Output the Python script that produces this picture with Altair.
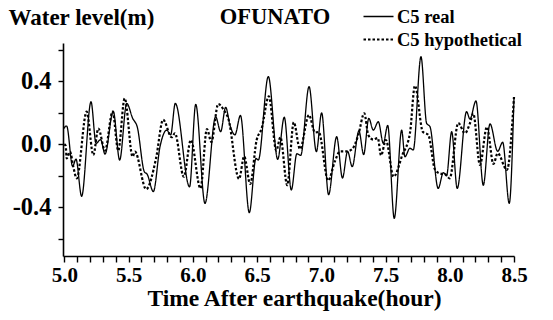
import altair as alt
import pandas as pd

series_names = ["C5 real", "C5 hypothetical"]
station_name = ["OFUNATO"]

real_time = [5.000, 5.011, 5.019, 5.065, 5.091, 5.135, 5.208, 5.247, 5.283, 5.317,
             5.381, 5.431, 5.486, 5.532, 5.568, 5.623, 5.645, 5.693, 5.745, 5.797,
             5.828, 5.864, 5.975, 6.023, 6.095, 6.178, 6.217, 6.256, 6.290, 6.328,
             6.371, 6.440, 6.492, 6.510, 6.588, 6.661, 6.712, 6.767, 6.810, 6.840,
             6.905, 6.962, 7.003, 7.057, 7.120, 7.165, 7.205, 7.241, 7.293, 7.330,
             7.370, 7.405, 7.444, 7.483, 7.517, 7.568, 7.626, 7.651, 7.690, 7.716,
             7.776, 7.820, 7.846, 7.910, 7.950, 7.975, 8.015, 8.058, 8.131, 8.157,
             8.204, 8.261, 8.313, 8.373, 8.412, 8.463, 8.500]
real_level = [0.100, 0.116, 0.115, -0.140, -0.094, -0.330, 0.270, 0.006, 0.030, -0.062,
              0.210, -0.100, 0.260, 0.165, 0.110, -0.174, -0.190, -0.300, -0.015, 0.090,
              0.060, 0.260, -0.270, 0.254, -0.375, 0.175, 0.080, 0.235, 0.120, 0.060,
              0.183, -0.434, -0.090, -0.100, 0.430, -0.095, 0.172, -0.290, -0.060, -0.070,
              0.366, -0.047, 0.200, -0.320, 0.048, -0.214, -0.045, -0.142, 0.085, -0.065,
              0.165, 0.090, 0.143, 0.006, 0.120, -0.470, 0.090, -0.079, -0.025, -0.036,
              0.556, 0.133, 0.112, -0.280, -0.180, -0.200, 0.080, -0.280, 0.207, 0.160,
              0.275, -0.260, 0.130, -0.045, 0.013, -0.375, 0.300]

hypo_time = [5.000, 5.011, 5.019, 5.045, 5.070, 5.097, 5.174, 5.226, 5.265, 5.317,
             5.376, 5.420, 5.470, 5.532, 5.550, 5.637, 5.714, 5.769, 5.836, 5.861,
             5.930, 5.985, 6.060, 6.110, 6.145, 6.198, 6.243, 6.276, 6.360, 6.400,
             6.447, 6.497, 6.536, 6.592, 6.650, 6.682, 6.735, 6.786, 6.834, 6.904,
             6.951, 6.980, 7.054, 7.105, 7.146, 7.195, 7.241, 7.288, 7.335, 7.366,
             7.405, 7.440, 7.465, 7.503, 7.563, 7.630, 7.690, 7.729, 7.790, 7.833,
             7.885, 7.924, 7.965, 8.000, 8.066, 8.118, 8.157, 8.183, 8.235, 8.289,
             8.340, 8.373, 8.445, 8.500]
hypo_level = [0.000, -0.010, -0.090, -0.047, -0.142, -0.216, 0.207, -0.068, 0.100, -0.040,
              0.207, -0.040, 0.292, -0.079, -0.047, -0.285, -0.090, 0.156, 0.045, 0.070,
              -0.206, 0.027, -0.280, 0.097, 0.015, 0.256, 0.215, 0.165, -0.220, -0.077,
              -0.252, 0.027, 0.100, 0.305, -0.040, 0.045, -0.260, 0.140, -0.030, 0.186,
              0.075, 0.078, -0.230, -0.110, -0.045, -0.045, -0.030, 0.059, 0.197, 0.059,
              0.030, 0.040, -0.070, 0.027, -0.206, -0.070, 0.070, 0.372, 0.080, 0.060,
              -0.160, -0.185, -0.190, -0.216, 0.135, 0.070, 0.133, 0.195, -0.131, 0.110,
              -0.125, -0.057, -0.163, 0.300]

x_tick_values = [5.0, 5.1, 5.2, 5.3, 5.4, 5.5, 5.6, 5.7, 5.8, 5.9,
                 6.0, 6.1, 6.2, 6.3, 6.4, 6.5, 6.6, 6.7, 6.8, 6.9,
                 7.0, 7.1, 7.2, 7.3, 7.4, 7.5, 7.6, 7.7, 7.8, 7.9,
                 8.0, 8.1, 8.2, 8.3, 8.4, 8.5]
y_tick_values = [-0.6, -0.4, -0.2, 0.0, 0.2, 0.4, 0.6]

df = pd.concat([
    pd.DataFrame({"t": real_time, "v": real_level, "series": series_names[0], "order": range(len(real_time))}),
    pd.DataFrame({"t": hypo_time, "v": hypo_level, "series": series_names[1], "order": range(len(hypo_time))}),
])
title_df = pd.DataFrame({"label": station_name})

FONT = "Liberation Serif"

legend_cfg = dict(title=None, orient="none", legendX=299, legendY=-38,
                  symbolType="stroke", symbolSize=900, symbolStrokeColor="black",
                  labelFont=FONT, labelFontSize=18.5, labelFontWeight="bold",
                  labelColor="black", rowPadding=0, clipHeight=23, labelOffset=2)

lines = alt.Chart(df).mark_line(interpolate="monotone", color="black").encode(
    x=alt.X("t:Q",
            scale=alt.Scale(domain=[4.99, 8.5], nice=False, zero=False),
            axis=alt.Axis(values=x_tick_values,
                          labelExpr="abs(datum.value*2 - round(datum.value*2)) < 0.001 ? format(datum.value, '.1f') : ''",
                          title="Time After earthquake(hour)",
                          titleX=231, titleY=49, titleBaseline="alphabetic",
                          titleFontSize=23.5, labelFontSize=21,
                          labelPadding=2, tickSize=6, labelOverlap=False,
                          labelFlush=False)),
    y=alt.Y("v:Q",
            scale=alt.Scale(domain=[-0.709, 0.643], nice=False, zero=False),
            axis=alt.Axis(values=y_tick_values,
                          labelExpr="abs(datum.value) < 0.01 ? '0.0' : (abs(abs(datum.value) - 0.4) < 0.01 ? (datum.value < 0 ? '-0.4' : '0.4') : '')",
                          title="Water level(m)",
                          titleAngle=0, titleX=-55, titleY=-19,
                          titleAlign="left", titleBaseline="alphabetic",
                          titleFontSize=23, labelFontSize=24.5,
                          labelPadding=7, tickSize=5, labelOverlap=False)),
    strokeDash=alt.StrokeDash("series:N",
                              scale=alt.Scale(domain=series_names, range=[[1, 0], [2.5, 2]]),
                              legend=alt.Legend(**legend_cfg)),
    strokeWidth=alt.StrokeWidth("series:N",
                                scale=alt.Scale(domain=series_names, range=[1.3, 2.2]),
                                legend=alt.Legend(**legend_cfg)),
    order="order:Q",
)

station = alt.Chart(title_df).mark_text(
    font=FONT, fontSize=22.5, fontWeight="bold", color="black",
    align="center", baseline="alphabetic"
).encode(
    text="label:N",
    x=alt.value(212),
    y=alt.value(-19),
)

chart = alt.layer(lines, station).properties(
    width=451,
    height=213,
    autosize=alt.AutoSizeParams(type="none"),
    padding={"left": 55, "top": 35, "right": 30, "bottom": 60},
).configure_view(
    stroke=None
).configure_axis(
    grid=False,
    domainColor="black", domainWidth=1.6,
    tickColor="black", tickWidth=1.4,
    labelColor="black", labelFont=FONT, labelFontWeight="bold",
    titleColor="black", titleFont=FONT, titleFontWeight="bold",
)

chart.save("out.html", embed_options={"renderer": "svg", "actions": False})
